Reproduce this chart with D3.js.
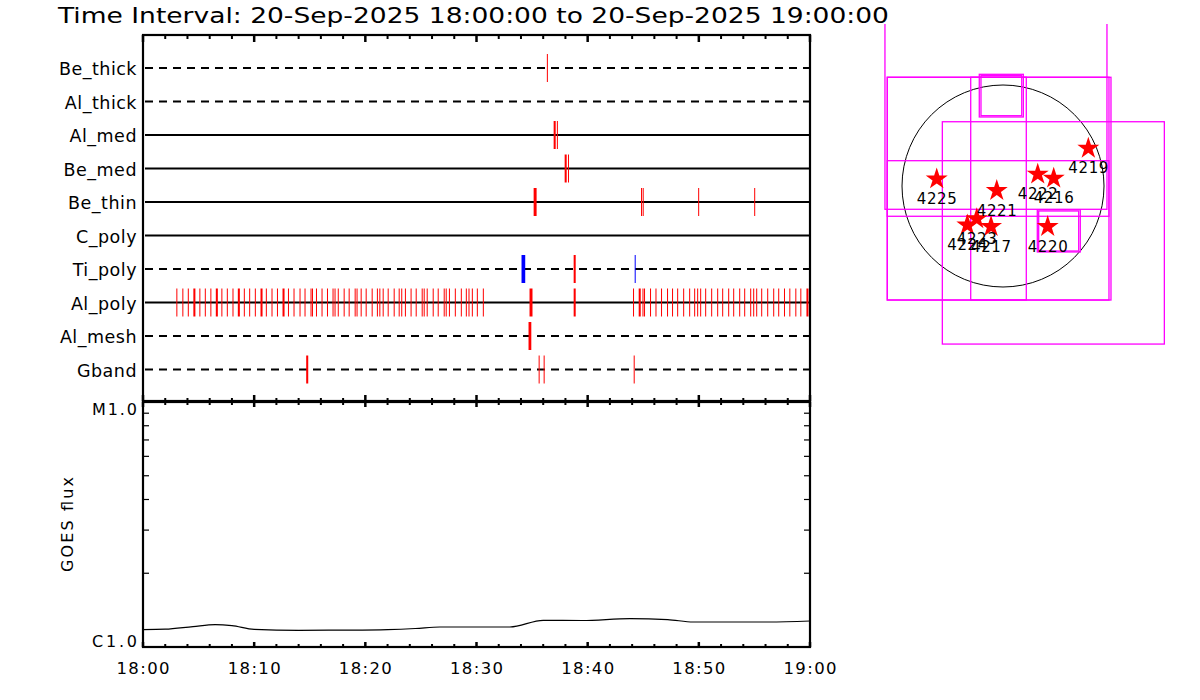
<!DOCTYPE html>
<html><head><meta charset="utf-8">
<script src="https://cdn.jsdelivr.net/npm/d3@7"></script>
<style>
body{margin:0;background:#fff}
svg{display:block}
text{font-family:"DejaVu Sans",sans-serif;fill:#000}
</style>
</head><body>
<svg id="c" width="1200" height="700"></svg>
<script>
// ---------------- DATA ----------------
const titleText = "Time Interval: 20-Sep-2025 18:00:00 to 20-Sep-2025 19:00:00";
const filters = ["Be_thick","Al_thick","Al_med","Be_med","Be_thin","C_poly","Ti_poly","Al_poly","Al_mesh","Gband"];
const dashedFilters = ["Be_thick","Al_thick","Ti_poly","Al_mesh","Gband"];
const xTickLabels = ["18:00","18:10","18:20","18:30","18:40","18:50","19:00"];
const goesLabels = [{v:1e-6,label:"C1.0"},{v:1e-5,label:"M1.0"}];
const goesMinor = [2e-6,3e-6,4e-6,5e-6,6e-6,7e-6,8e-6,9e-6];

// exposures: [minutes after 18:00, duration in seconds]
const evBeThick = [[36.33,0]];
const evAlThick = [];
const evAlMed   = [[36.94,11],[37.23,0]];
const evBeMed   = [[37.93,11],[38.23,0]];
const evBeThin  = [[35.14,16],[44.80,0],[44.95,0],[49.94,0],[54.98,0],[59.94,0]];
const evCPoly   = [];
const evTiPolyRed  = [[38.74,11]];
const evTiPolyBlue = [[34.05,20],[44.23,0]];
const evAlPoly = [
 [3.00,0],[3.54,0],[4.03,0],[4.53,11],[5.07,0],[5.56,0],[6.06,0],[6.55,11],[7.05,0],[7.54,0],
 [8.05,0],[8.53,11],[9.07,0],[9.55,0],[10.06,0],[10.57,11],[11.05,0],[11.56,0],[12.05,0],[12.55,11],
 [13.04,0],[13.54,0],[14.08,0],[14.53,0],[15.07,0],[15.20,0],[15.56,0],[16.06,0],[16.55,0],[17.05,0],
 [17.23,0],[17.52,0],[18.05,0],[18.50,0],[19.04,0],[19.21,0],[19.58,0],[20.03,0],[20.57,0],[21.04,0],
 [21.26,0],[21.56,0],[22.01,0],[22.55,0],[23.00,0],[23.23,0],[23.56,0],[24.07,0],[24.53,0],[25.07,0],
 [25.25,0],[25.52,0],[26.06,0],[26.51,0],[27.05,0],[27.23,0],[27.52,0],[28.05,0],[28.59,0],[29.04,0],
 [29.28,0],[29.58,0],[30.03,0],[30.57,0],
 [34.77,16],[38.74,11],
 [44.08,0],[44.59,11],[44.93,0],[45.07,0],[45.61,0],[46.10,0],[46.60,0],[47.14,0],[47.59,0],[48.05,0],
 [48.59,0],[49.13,0],[49.58,0],[49.85,0],[50.12,0],[50.57,0],[51.11,0],[51.65,0],[52.10,0],[52.64,0],
 [53.09,0],[53.63,0],[54.08,0],[54.62,0],[54.89,0],[55.16,0],[55.61,0],[56.15,0],[56.69,0],[57.14,0],
 [57.66,0],[58.14,0],[58.68,0],[59.13,0],[59.68,11],[59.94,0]
];
const evAlMesh = [[34.68,15]];
const evGband  = [[14.68,11],[35.59,0],[36.04,0],[44.14,0]];

// GOES flux (W/m^2) vs minutes after 18:00
const goesT = [0,2,4.5,6.5,8,10,14,18,22,24.5,26.7,33,36,39.5,43.8,47.2,49.5,56.3,60];
const goesF = [1.178e-6,1.182e-6,1.212e-6,1.234e-6,1.222e-6,1.180e-6,1.170e-6,1.172e-6,1.178e-6,1.190e-6,1.207e-6,1.207e-6,1.285e-6,1.283e-6,1.306e-6,1.294e-6,1.265e-6,1.265e-6,1.277e-6];

// Solar map (arcsec)
const solarRadius = 954;
const arNames = ["4225","4221","4222","4216","4219","4220","4217","4224","4223"];
const arX = [-626,-59,328,479,806,422,-113,-337,-248];
const arY = [66,-44,111,73,356,-384,-384,-370,-311];
// FOV boxes: [x0,y0,x1,y1] arcsec
const fovBoxes = [
 [-1115,-220,982,1800],
 [-1093,-1077,1020,1027],
 [-1093,-1077,1001,1027],
 [-305,-1077,220,1027],
 [-1093,-286,1001,239],
 [-573,-1493,1524,607],
 [-224,652,192,1055],
 [-208,664,177,1042],
 [324,-623,730,-224],
 [337,-614,715,-236]
];

// ---------------- DRAW ----------------
const svg = d3.select("#c");
const t0 = new Date(Date.UTC(2025,8,20,18,0,0));
const t1 = new Date(Date.UTC(2025,8,20,19,0,0));
const toDate = m => new Date(t0.getTime() + m*60000);

const L = 143, R = 810;
const topY0 = 35, topY1 = 401, botY0 = 402, botY1 = 647;
const x = d3.scaleUtc().domain([t0,t1]).range([L,R]);
const row = d3.scalePoint().domain(filters).range([68,369.5]);

// title
svg.append("text").attr("x",58).attr("y",23).attr("font-size",21)
  .attr("textLength",831).attr("lengthAdjust","spacingAndGlyphs").text(titleText);

// row lines
filters.forEach(f=>{
  const ln = svg.append("line").attr("x1",L+2).attr("x2",R).attr("y1",row(f)).attr("y2",row(f))
    .attr("stroke","#000").attr("stroke-width",2.2);
  if (dashedFilters.includes(f)) ln.attr("stroke-dasharray","8,6");
  svg.append("text").attr("x",137).attr("y",row(f)+7).attr("text-anchor","end")
    .attr("font-size",17.5).attr("letter-spacing",0.5).text(f);
});

// events
const evMap = {Be_thick:evBeThick, Al_thick:evAlThick, Al_med:evAlMed, Be_med:evBeMed, Be_thin:evBeThin,
  C_poly:evCPoly, Ti_poly:evTiPolyRed, Al_poly:evAlPoly, Al_mesh:evAlMesh, Gband:evGband};
function drawEvents(f, list, color){
  svg.append("g").selectAll("rect").data(list).join("rect")
    .attr("x", d=>x(toDate(d[0])))
    .attr("width", d=>Math.max(1, x(toDate(d[0]+d[1]/60)) - x(toDate(d[0]))))
    .attr("y", row(f)-14).attr("height",28).attr("fill",color);
}
filters.forEach(f=>drawEvents(f, evMap[f], "#ff0000"));
drawEvents("Ti_poly", evTiPolyBlue, "#0000ff");

// axes frames
const majors = d3.range(0,61,10).map(toDate);
const minors = d3.range(0,61,2).filter(m=>m%10!==0).map(toDate);
function xTicks(y, dir, majLen, minLen){
  const g = svg.append("g");
  g.selectAll(".mj").data(majors).join("line").attr("x1",d=>x(d)).attr("x2",d=>x(d))
    .attr("y1",y).attr("y2",y+dir*majLen).attr("stroke","#000").attr("stroke-width",2.5);
  g.selectAll(".mn").data(minors).join("line").attr("x1",d=>x(d)).attr("x2",d=>x(d))
    .attr("y1",y).attr("y2",y+dir*minLen).attr("stroke","#000").attr("stroke-width",2);
}
// top panel frame
svg.append("rect").attr("x",L).attr("y",topY0).attr("width",R-L).attr("height",topY1-topY0)
  .attr("fill","none").attr("stroke","#000").attr("stroke-width",2.2);
xTicks(topY0, 1, 7, 4);
xTicks(topY1, -1, 6, 3);

// bottom panel
const y = d3.scaleLog().domain([1e-6,1e-5]).range([botY1,botY0]);
svg.append("rect").attr("x",L).attr("y",botY0).attr("width",R-L).attr("height",botY1-botY0)
  .attr("fill","none").attr("stroke","#000").attr("stroke-width",2.2);
xTicks(botY0, 1, 5, 3);
xTicks(botY1, -1, 5, 3);
svg.append("g").selectAll("line").data(goesMinor).join("line")
  .attr("x1",L).attr("x2",L+6).attr("y1",d=>y(d)).attr("y2",d=>y(d)).attr("stroke","#000").attr("stroke-width",1.2);
svg.append("g").selectAll("line").data(goesMinor).join("line")
  .attr("x1",R).attr("x2",R-6).attr("y1",d=>y(d)).attr("y2",d=>y(d)).attr("stroke","#000").attr("stroke-width",1.2);

// y labels
svg.append("text").attr("x",137).attr("y",y(goesLabels[0].v)).attr("text-anchor","end").attr("font-size",16)
  .attr("textLength",45).text(goesLabels[0].label);
svg.append("text").attr("x",137).attr("y",y(goesLabels[1].v)+13).attr("text-anchor","end").attr("font-size",16)
  .attr("textLength",45).text(goesLabels[1].label);
svg.append("text").attr("transform",`translate(73,${(botY0+botY1)/2}) rotate(-90)`)
  .attr("text-anchor","middle").attr("font-size",16).attr("textLength",95).text("GOES flux");

// x labels
svg.append("g").selectAll("text").data(xTickLabels).join("text")
  .attr("x",(d,i)=>x(majors[i])).attr("y",674).attr("text-anchor","middle")
  .attr("font-size",16.5).attr("textLength",53).text(d=>d);

// GOES curve
const goesData = goesT.map((t,i)=>[toDate(t), goesF[i]]);
svg.append("path").datum(goesData)
  .attr("d", d3.line().x(d=>x(d[0])).y(d=>y(d[1])).curve(d3.curveMonotoneX))
  .attr("fill","none").attr("stroke","#000").attr("stroke-width",1.2);

// ---------------- Solar map ----------------
const cx = 1003, cy = 186, rpx = 101;
const sx = d3.scaleLinear().domain([-solarRadius, solarRadius]).range([cx-rpx, cx+rpx]);
const sy = d3.scaleLinear().domain([-solarRadius, solarRadius]).range([cy+rpx, cy-rpx]);
svg.append("clipPath").attr("id","mapclip").append("rect").attr("x",860).attr("y",24).attr("width",340).attr("height",676);
const mg = svg.append("g").attr("clip-path","url(#mapclip)");
mg.append("circle").attr("cx",sx(0)).attr("cy",sy(0)).attr("r",sx(solarRadius)-sx(0))
  .attr("fill","none").attr("stroke","#000").attr("stroke-width",1);
mg.selectAll("rect.fov").data(fovBoxes).join("rect").attr("class","fov")
  .attr("x",d=>sx(d[0])).attr("y",d=>sy(d[3])).attr("width",d=>sx(d[2])-sx(d[0])).attr("height",d=>sy(d[1])-sy(d[3]))
  .attr("fill","none").attr("stroke","#ff00ff").attr("stroke-width",1.3);
const star = d3.symbol(d3.symbolStar, 150);
mg.selectAll("path.ar").data(arNames).join("path").attr("class","ar")
  .attr("d", star).attr("transform",(d,i)=>`translate(${sx(arX[i])},${sy(arY[i])})`).attr("fill","#ff0000");
mg.selectAll("text.arl").data(arNames).join("text").attr("class","arl")
  .attr("x",(d,i)=>sx(arX[i])).attr("y",(d,i)=>sy(arY[i])+25).attr("text-anchor","middle")
  .attr("font-size",15).attr("textLength",40).text(d=>d);
</script>
</body></html>
